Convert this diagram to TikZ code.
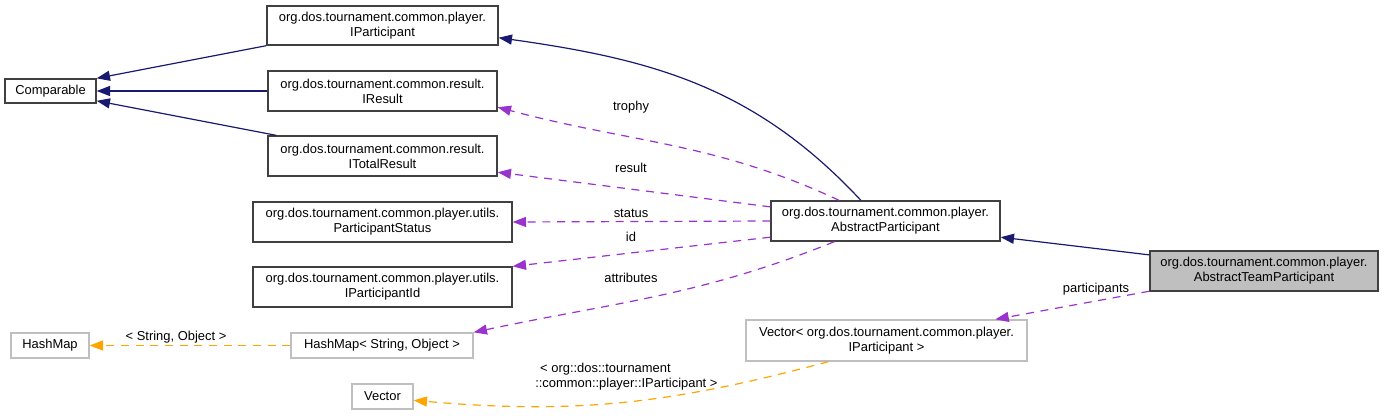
\documentclass[tikz,border=0pt]{standalone}
\usepackage{fontspec}
\setmainfont{Liberation Sans}
\usepackage{tikz}
\usetikzlibrary{arrows.meta,positioning,calc}
\definecolor{dxnavy}{HTML}{191970}
\definecolor{dxorchid}{HTML}{9A32CD}
\definecolor{dxorange}{HTML}{FFA500}
\definecolor{dxframe}{HTML}{404040}
\definecolor{dxgrey}{HTML}{BFBFBF}

\begin{document}
\begin{tikzpicture}[x=0.75pt, y=-0.75pt, font=\fontsize{9.7}{11.4}\selectfont,
  cls/.style={draw=dxframe, line width=1pt, align=center, inner sep=0pt, minimum height=30pt},
  tmpl/.style={draw=dxgrey, line width=1pt, align=center, inner sep=0pt, minimum height=18.75pt},
  inherit/.style={-{Triangle[length=10pt,width=7.5pt]}, dxnavy, line width=0.9pt},
  usage/.style={-{Triangle[length=10pt,width=7.5pt]}, dxorchid, line width=0.9pt, dash pattern=on 6pt off 5pt},
  tinst/.style={-{Triangle[length=10pt,width=7.5pt]}, dxorange, line width=0.9pt, dash pattern=on 6pt off 5pt}]
  \useasboundingbox (0,0) rectangle (1384,415);
  % classes
  \node[cls, minimum height=18pt, minimum width=68.25pt] (comparable) at (50.5,91) {Comparable};
  \node[cls, minimum height=29.25pt, minimum width=173.25pt] (ipart) at (382.5,25.5) {org.dos.tournament.common.player.\\IParticipant};
  \node[cls, minimum width=171.75pt] (iresult) at (382.5,91) {org.dos.tournament.common.result.\\IResult};
  \node[cls, minimum width=171.75pt] (itotal) at (382.5,156) {org.dos.tournament.common.result.\\ITotalResult};
  \node[cls, minimum width=194.25pt] (pstatus) at (382.5,222) {org.dos.tournament.common.player.utils.\\ParticipantStatus};
  \node[cls, minimum width=194.25pt] (pid) at (382.5,287) {org.dos.tournament.common.player.utils.\\IParticipantId};
  \node[cls, minimum width=171.75pt] (abspart) at (885.5,221) {org.dos.tournament.common.player.\\AbstractParticipant};
  \node[cls, fill=dxgrey, minimum width=171pt] (teampart) at (1264,271) {org.dos.tournament.common.player.\\AbstractTeamParticipant};
  % templates
  \node[tmpl, minimum width=58.5pt] (hashmap) at (50,345.5) {HashMap};
  \node[tmpl, minimum width=136.5pt] (hashso) at (382,345.5) {HashMap< String, Object >};
  \node[tmpl, minimum width=45.75pt] (vector) at (382.5,396.5) {Vector};
  \node[tmpl, minimum height=30.75pt, minimum width=210.75pt] (vecpart) at (886.5,340.5) {Vector< org.dos.tournament.common.player.\\IParticipant >};
  % inheritance
  \draw[inherit] (ipart.south west) -- (comparable.north east);
  \draw[inherit] (iresult.west) -- (comparable.east);
  \draw[inherit] (itotal.169) -- (comparable.-12);
  \draw[inherit] (abspart.140) to[out=133, in=-8] (ipart.-6);
  \draw[inherit] (teampart.172) -- (abspart.-8);
  % members
  \draw[usage] (abspart.156) to[out=155, in=-15] (iresult.-8);
  \draw[usage] (abspart.173) -- (itotal.-8);
  \draw[usage] (abspart.west) -- (pstatus.east);
  \draw[usage] (abspart.188) -- (pid.north east);
  \draw[usage] (abspart.202) to[out=202, in=12] (hashso.north east);
  \draw[usage] (teampart.190.5) -- (vecpart.11);
  % template instances
  \draw[tinst] (hashso.west) -- (hashmap.east);
  \draw[tinst] (vecpart.200) to[out=195, in=-5] (vector.-7);
  % labels
  \node (lbltrophy) at (631,107) {trophy};
  \node (lblresult) at (631,168) {result};
  \node (lblstatus) at (631,213) {status};
  \node (lblid) at (631,237) {id};
  \node (lblattr) at (631,278) {attributes};
  \node (lblpart) at (1096,289) {participants};
  \node (lblhash) at (176,337) {< String, Object >};
  \node[anchor=west, align=left, inner sep=0pt] (lblvec) at (535,377) {\hspace*{3.7pt}< org::dos::tournament\\::common::player::IParticipant >};
\end{tikzpicture}
\end{document}
